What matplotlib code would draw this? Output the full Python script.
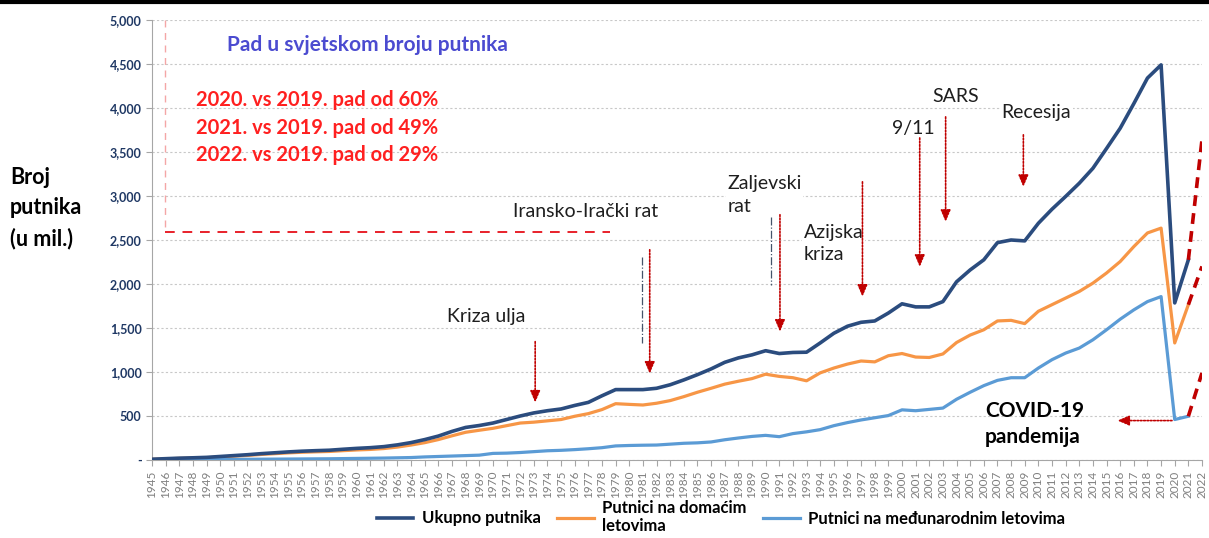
import matplotlib
matplotlib.use('Agg')
import matplotlib.pyplot as plt
from matplotlib.lines import Line2D

plt.rcParams['font.family'] = ['Lato', 'DejaVu Sans']

# podaci (milijuni putnika), ocitano s grafa
godine = list(range(1945, 2022))
ukupno = [9, 15, 21, 25, 30,
          40, 50, 60, 72, 82, 92, 100, 106, 111, 122,
          132, 140, 152, 172, 198, 232, 272, 325, 370, 392,
          420, 460, 500, 535, 560, 580, 620, 655, 730, 800,
          800, 800, 815, 855, 910, 970, 1035, 1110, 1160, 1195,
          1242, 1210, 1222, 1225, 1330, 1440, 1520, 1565, 1580, 1670,
          1775, 1740, 1740, 1800, 2025, 2160, 2275, 2470, 2500, 2490,
          2690, 2850, 2995, 3145, 3315, 3540, 3770, 4050, 4340, 4490,
          1785, 2275]
domaci = [8, 13, 18, 21, 25,
          34, 43, 52, 63, 72, 81, 88, 93, 97, 106,
          114, 120, 130, 147, 170, 197, 232, 275, 315, 338,
          360, 390, 420, 430, 445, 460, 497, 527, 573, 640,
          632, 625, 645, 675, 720, 770, 815, 862, 895, 925,
          975, 950, 935, 900, 990, 1045, 1090, 1125, 1115, 1185,
          1210, 1170, 1165, 1205, 1335, 1420, 1480, 1580, 1587, 1550,
          1690, 1765, 1840, 1915, 2010, 2125, 2255, 2425, 2580, 2635,
          1330, 1765]
medjunarodni = [1, 2, 3, 4, 5,
                6, 7, 8, 9, 10, 11, 12, 13, 14, 16,
                18, 20, 22, 25, 28, 35, 40, 45, 50, 55,
                75, 78, 85, 95, 105, 110, 118, 128, 140, 160,
                165, 168, 170, 180, 190, 195, 205, 230, 250, 268,
                280, 265, 300, 320, 345, 390, 425, 455, 480, 505,
                570, 560, 575, 590, 690, 770, 845, 905, 935, 935,
                1045, 1140, 1215, 1272, 1366, 1480, 1600, 1706, 1800, 1857,
                460, 497]

# procjena 2021 -> 2022 (crvene isprekidane linije)
godine_proc = [2021, 2022]
ukupno_proc = [2275, 3640]
domaci_proc = [1765, 2200]
medjunarodni_proc = [497, 990]

sve_godine = list(range(1945, 2023))

tamno = '#2B4C7E'
narancasto = '#F79646'
svijetlo = '#5B9BD5'
crveno = '#C00000'
tekst = '#1E1E1E'

fig = plt.figure(figsize=(12.09, 5.38), dpi=100)
ax = fig.add_axes([152 / 1209, 78 / 538, 1050 / 1209, 440 / 538])

l1, = ax.plot(godine, ukupno, color=tamno, lw=2.6, label='Ukupno putnika', zorder=5)
l2, = ax.plot(godine, domaci, color=narancasto, lw=2.3, label='Putnici na domaćim\nletovima', zorder=4)
l3, = ax.plot(godine, medjunarodni, color=svijetlo, lw=2.3, label='Putnici na međunarodnim letovima', zorder=4)

for proc in (ukupno_proc, domaci_proc, medjunarodni_proc):
    ax.plot(godine_proc, proc, color=crveno, lw=2.6, dashes=(3, 2), zorder=6)

ax.set_xlim(1945, 2022)
ax.set_ylim(0, 5000)
ax.set_yticks(range(0, 5001, 500))
ax.set_yticklabels(['{:,}'.format(v) if v > 0 else '-' for v in range(0, 5001, 500)],
                   fontsize=9, fontweight='bold', color='#1F3864')
ax.set_xticks(sve_godine)
ax.set_xticklabels([str(g) for g in sve_godine], rotation=90, fontsize=8.5, color='#7F7F7F')
ax.tick_params(axis='both', color='#A6A6A6', length=4)
ax.grid(axis='y', color='#C8C8C8', lw=0.8, linestyle=(0, (2, 2)))
ax.set_axisbelow(True)
for s in ('top', 'right'):
    ax.spines[s].set_visible(False)
for s in ('left', 'bottom'):
    ax.spines[s].set_color('#A6A6A6')

# okvir s padom broja putnika
ax.plot([1945.95, 1945.95], [5000, 2594], color='#F4A6A6', lw=1, dashes=(5, 4), clip_on=False)
ax.plot([1945.95, 1978.6], [2594, 2594], color='#E8202A', lw=1.4, dashes=(5, 4))
ax.text(1950.5, 4716, 'Pad u svjetskom broju putnika', fontsize=15, fontweight='bold',
        color='#4B4BD0', va='center')
for y, t in [(4092, '2020. vs 2019. pad od 60%'),
             (3774, '2021. vs 2019. pad od 49%'),
             (3468, '2022. vs 2019. pad od 29%')]:
    ax.text(1948.2, y, t, fontsize=14.5, fontweight='bold', color='#FF2020', va='center')

bijelo = dict(facecolor='white', edgecolor='none', pad=1)


def strelica(x, y0, y1):
    ax.annotate('', xy=(x, y1), xytext=(x, y0),
                arrowprops=dict(arrowstyle='-|>,head_width=0.3,head_length=0.7',
                                color=crveno, lw=1.2, linestyle=(0, (1, 1)), shrinkA=0, shrinkB=0))


ax.text(1966.6, 1629, 'Kriza ulja', fontsize=14, color=tekst, va='center', bbox=bijelo)
strelica(1973.1, 1345, 653)
ax.text(1971.5, 2820, 'Iransko-Irački rat', fontsize=14, color=tekst, va='center', bbox=bijelo)
strelica(1981.5, 2389, 982)
ax.plot([1980.9, 1980.9], [2310, 1334], color='#44546A', lw=0.9, linestyle='-.')
ax.text(1987.2, 3010, 'Zaljevski\nrat', fontsize=14, color=tekst, va='center', linespacing=1.45, bbox=bijelo)
strelica(1991.05, 2787, 1459)
ax.plot([1990.4, 1990.4], [2764, 1992], color='#44546A', lw=0.9, linestyle='-.')
ax.text(1992.8, 2460, 'Azijska\nkriza', fontsize=14, color=tekst, va='center', linespacing=1.4, bbox=bijelo)
strelica(1997.1, 3161, 1856)
ax.text(1999.3, 3763, '9/11', fontsize=14, color=tekst, va='center', bbox=bijelo)
strelica(2001.3, 3660, 2196)
ax.text(2002.2, 4126, 'SARS', fontsize=14, color=tekst, va='center', bbox=bijelo)
strelica(2003.2, 3899, 2707)
ax.text(2007.3, 3944, 'Recesija', fontsize=14, color=tekst, va='center', bbox=bijelo)
strelica(2008.9, 3695, 3104)
ax.text(2006.1, 410, 'COVID-19\npandemija', fontsize=15, fontweight='bold', color='black',
        va='center', linespacing=1.35)
ax.annotate('', xy=(2015.8, 448), xytext=(2019.8, 448),
            arrowprops=dict(arrowstyle='-|>,head_width=0.3,head_length=0.7',
                            color=crveno, lw=1.2, linestyle=(0, (1, 1)), shrinkA=0, shrinkB=0))

fig.text(10 / 1209, 1 - 208 / 538, 'Broj\nputnika\n(u mil.)', fontsize=15.5, fontweight='bold',
         color='black', va='center', ha='left', linespacing=1.55)

fig.legend(handles=[l1, l2, l3], loc='center', bbox_to_anchor=(721 / 1209, 1 - 517 / 538),
           ncol=3, frameon=False, prop={'weight': 'bold', 'size': 12}, handlelength=2.2,
           columnspacing=1.0, handletextpad=0.5, labelspacing=0.2)

fig.add_artist(Line2D([0, 1], [1 - 1.5 / 538, 1 - 1.5 / 538], color='black', lw=3))

fig.savefig('out.png', dpi=100)
